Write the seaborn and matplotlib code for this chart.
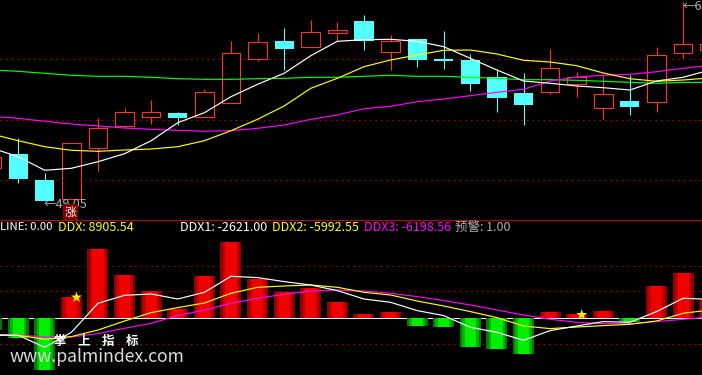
import numpy as np
import matplotlib
matplotlib.use('Agg')
import matplotlib.pyplot as plt
import pandas as pd
import seaborn as sns

# candles, values (upper pane scale, grows downward)
c_high = [150, 138, 173, 143.3, 118, 108, 100, 112, 89, 41, 33, 28, 20, 22, 15, 35, 39, 31, 54, 69.3, 73, 49, 72, 75, 75, 47, 2, 40]
c_top = [157, 153.5, 180.3, 143.3, 128.3, 112.3, 112.3, 113.3, 92.3, 53.3, 42.3, 41, 32.3, 30.3, 21, 41.3, 39.3, 59, 60, 77.3, 93, 68.3, 77.3, 94.3, 101, 55.3, 44.3, 44.3]
c_bot = [168, 178.5, 200.7, 199.3, 148.3, 125.7, 117.3, 117.7, 116.7, 103.3, 58.7, 48.7, 46.7, 32.7, 40.7, 51.7, 59.7, 60.7, 83.7, 97.7, 104.7, 91.7, 83.7, 107.7, 106.7, 101.7, 53.3, 49.7]
c_low = [172, 182.5, 200.7, 199.3, 170.7, 128, 123.7, 125, 116.7, 103.3, 61, 70, 46.7, 40.7, 50, 70, 67, 69, 91, 111.7, 125, 94, 97, 119, 115, 111.7, 58.3, 55]
c_up = [1, 0, 0, 1, 1, 1, 1, 0, 1, 1, 1, 0, 1, 1, 0, 1, 0, 0, 0, 0, 0, 1, 1, 1, 0, 1, 1, 1]

ma_white = [148, 156.7, 170.3, 168.3, 161.7, 153.7, 140.7, 122.7, 112.7, 96.7, 84.3, 73.3, 55.7, 41.3, 39.7, 39.3, 41.3, 46.7, 58.3, 70, 81, 83.3, 86, 87.7, 90, 81, 77.3, 70]
ma_yellow = [134, 140.7, 146.7, 150.3, 151.3, 150, 149, 146.7, 140.7, 130.7, 119.3, 106, 88.3, 78.3, 66.7, 60, 55, 50.3, 50, 54, 60.3, 62, 65.7, 73, 78.7, 81.3, 80, 78]
ma_green = [70, 71.3, 73.3, 75.3, 76.3, 76.3, 77.3, 78.7, 79.3, 79.3, 78.7, 78.3, 77.3, 77.3, 76.3, 75.3, 76.3, 76.3, 77.3, 78.3, 79.7, 79.7, 80.3, 81.3, 82.3, 83.3, 82.3, 82.3]
ma_magenta = [116.3, 118.3, 121.3, 124, 126, 128, 129.3, 130.3, 131.3, 130.7, 128.3, 125, 119.3, 115, 108.7, 106.3, 101.7, 99, 95.7, 92.3, 89.3, 81, 77, 75.3, 74.3, 71.7, 68.3, 65.3]

# DDX pane
ddx = [-12, -20, -52, 21, 69, 43, 27, 9, 42, 76, 39, 26, 30, 16, 4, 6, -7.7, -8.7, -29, -31, -36, 6, 4, 7, -4, 32, 45, 19]
ddx1 = [-16.7, -17, -29, -14, 15, 23, 24.3, 19.3, 26, 42, 40.7, 36.7, 33.3, 27.7, 19.3, 16, 7.7, 2.7, -9, -14, -22, -12.3, -7.7, -3.3, -4, 6.7, 20, 19]
ddx2 = [-17, -17, -21, -18.3, -11.7, -2.7, 5.7, 10.7, 15.3, 25, 31, 32.3, 33.3, 31, 26, 23.3, 17.3, 12.3, 6.7, 0.7, -7.7, -10.3, -8.7, -7.3, -6, -2.7, 5, 8.3]
ddx3 = [-16, -16.7, -18.7, -18.7, -15.3, -10, -5, 2.7, 8.3, 15, 20, 24, 27.3, 28.3, 27.3, 25, 21.7, 17.7, 13.3, 8.3, 3.3, -1, -4, -5.3, -5.3, -3.3, -1, 1.3]
star_idx = [3.19, 22.19]
star_val = [21, 3.5]

RED = '#ff3232'
CYAN = '#54ffff'
DOTRED = '#c00000'
W, H = 702, 375

sns.set_theme(style='dark')
plt.rcParams['font.family'] = ['Noto Sans CJK SC', 'DejaVu Sans']
plt.rcParams['axes.unicode_minus'] = False

fig = plt.figure(figsize=(W / 100, H / 100), dpi=100, facecolor='black')
top = fig.add_axes([0, 1 - 219 / H, 1, 219 / H], facecolor='black')
low = fig.add_axes([0, 0, 1, 156 / H], facecolor='black')

idx = np.arange(len(c_top))
df = pd.DataFrame({'i': idx, 'high': c_high, 'top': c_top, 'bot': c_bot, 'low': c_low, 'up': c_up,
                   'white': ma_white, 'yellow': ma_yellow, 'green': ma_green, 'magenta': ma_magenta,
                   'ddx': ddx, 'ddx1': ddx1, 'ddx2': ddx2, 'ddx3': ddx3})


def ma_line(ax, col, color):
    sns.lineplot(data=df, x='i', y=col, color=color, linewidth=0.85, ax=ax, estimator=None,
                 zorder=5, legend=False)


# upper pane
for row in [58.5, 119.5, 179.5]:
    top.axhline(row, color=DOTRED, lw=0.72, ls=(0, (1.4, 4.2)), zorder=1, snap=True)

for _, r in df.iterrows():
    col = RED if r['up'] else CYAN
    top.vlines(r['i'], r['high'], r['low'], color=col, lw=0.8, zorder=2, snap=True)
    if r['up']:
        top.bar(r['i'], r['bot'] - r['top'], bottom=r['top'], width=0.7, facecolor='black',
                edgecolor=col, lw=0.8, zorder=3, snap=True)
    else:
        top.bar(r['i'], r['bot'] - r['top'], bottom=r['top'], width=0.72, color=col, lw=0, zorder=3)

for name, colr in [('green', '#00ff00'), ('magenta', '#ff00ff'), ('yellow', '#ffff00'), ('white', '#ffffff')]:
    ma_line(top, name, colr)

# lower pane
for val in [52.6, 27, -26]:
    low.axhline(val, color=DOTRED, lw=0.72, ls=(0, (1.4, 4.2)), zorder=1, snap=True)
low.axhline(0, color='white', lw=0.72, zorder=1, snap=True)

up_df = df[df['ddx'] > 0]
dn_df = df[df['ddx'] < 0]
for wid, rc, gc in [(0.79, '#8c0000', '#007a00'), (0.62, '#c00000', '#00b400'), (0.42, '#f00000', '#00ee00')]:
    sns.barplot(data=up_df, x='i', y='ddx', color=rc, saturation=1, width=wid, native_scale=True,
                linewidth=0, ax=low, zorder=2, errorbar=None)
    sns.barplot(data=dn_df, x='i', y='ddx', color=gc, saturation=1, width=wid, native_scale=True,
                linewidth=0, ax=low, zorder=2, errorbar=None)

for name, colr in [('ddx3', '#ff00ff'), ('ddx2', '#ffff00'), ('ddx1', '#ffffff')]:
    ma_line(low, name, colr)
low.scatter(star_idx, star_val, marker='*', s=70, color='#ffee00', edgecolor='none', zorder=6)

for ax in (top, low):
    ax.set_xlim(0.316, 26.71)
    ax.set_axis_off()
top.set_ylim(219, 0)
low.set_ylim(-56.7, 99.3)

# border line between panes
fig.add_artist(plt.Line2D([0, 1], [1 - 219.5 / H] * 2, color='#c00000', lw=0.72))


def put(px, py, s, color, size=9, **kw):
    fig.text(px / W, 1 - py / H, s, color=color, fontsize=size, va='center', ha='left', **kw)


# legend row
put(0, 227.5, 'LINE: 0.00', 'white', size=8.2)
put(58.5, 227.5, 'DDX: 8905.54', '#ffff00')
put(180, 227.5, 'DDX1: -2621.00', 'white')
put(271.5, 227.5, 'DDX2: -5992.55', '#ffff00')
put(363.5, 227.5, 'DDX3: -6198.56', '#ff00ff')
put(455, 227.5, '预警: 1.00', '#b0b0b0')

# price labels
put(44, 204, '←49.05', '#b0b0b0', size=9)
put(683, 6, '←6', '#b0b0b0', size=9)
fig.text(70.5 / W, 1 - 212 / H, '涨', color='white', fontsize=8.5, ha='center', va='center',
         bbox=dict(boxstyle='square,pad=0.1', fc='#800000', ec='none'))

# watermark
put(54, 341.5, '掌    上    指    标', 'white', size=9, fontweight='bold')
put(10, 356.5, 'www.palmindex.com', '#dcdcdc', size=12.7)

fig.savefig('out.png', dpi=100, facecolor='black')
